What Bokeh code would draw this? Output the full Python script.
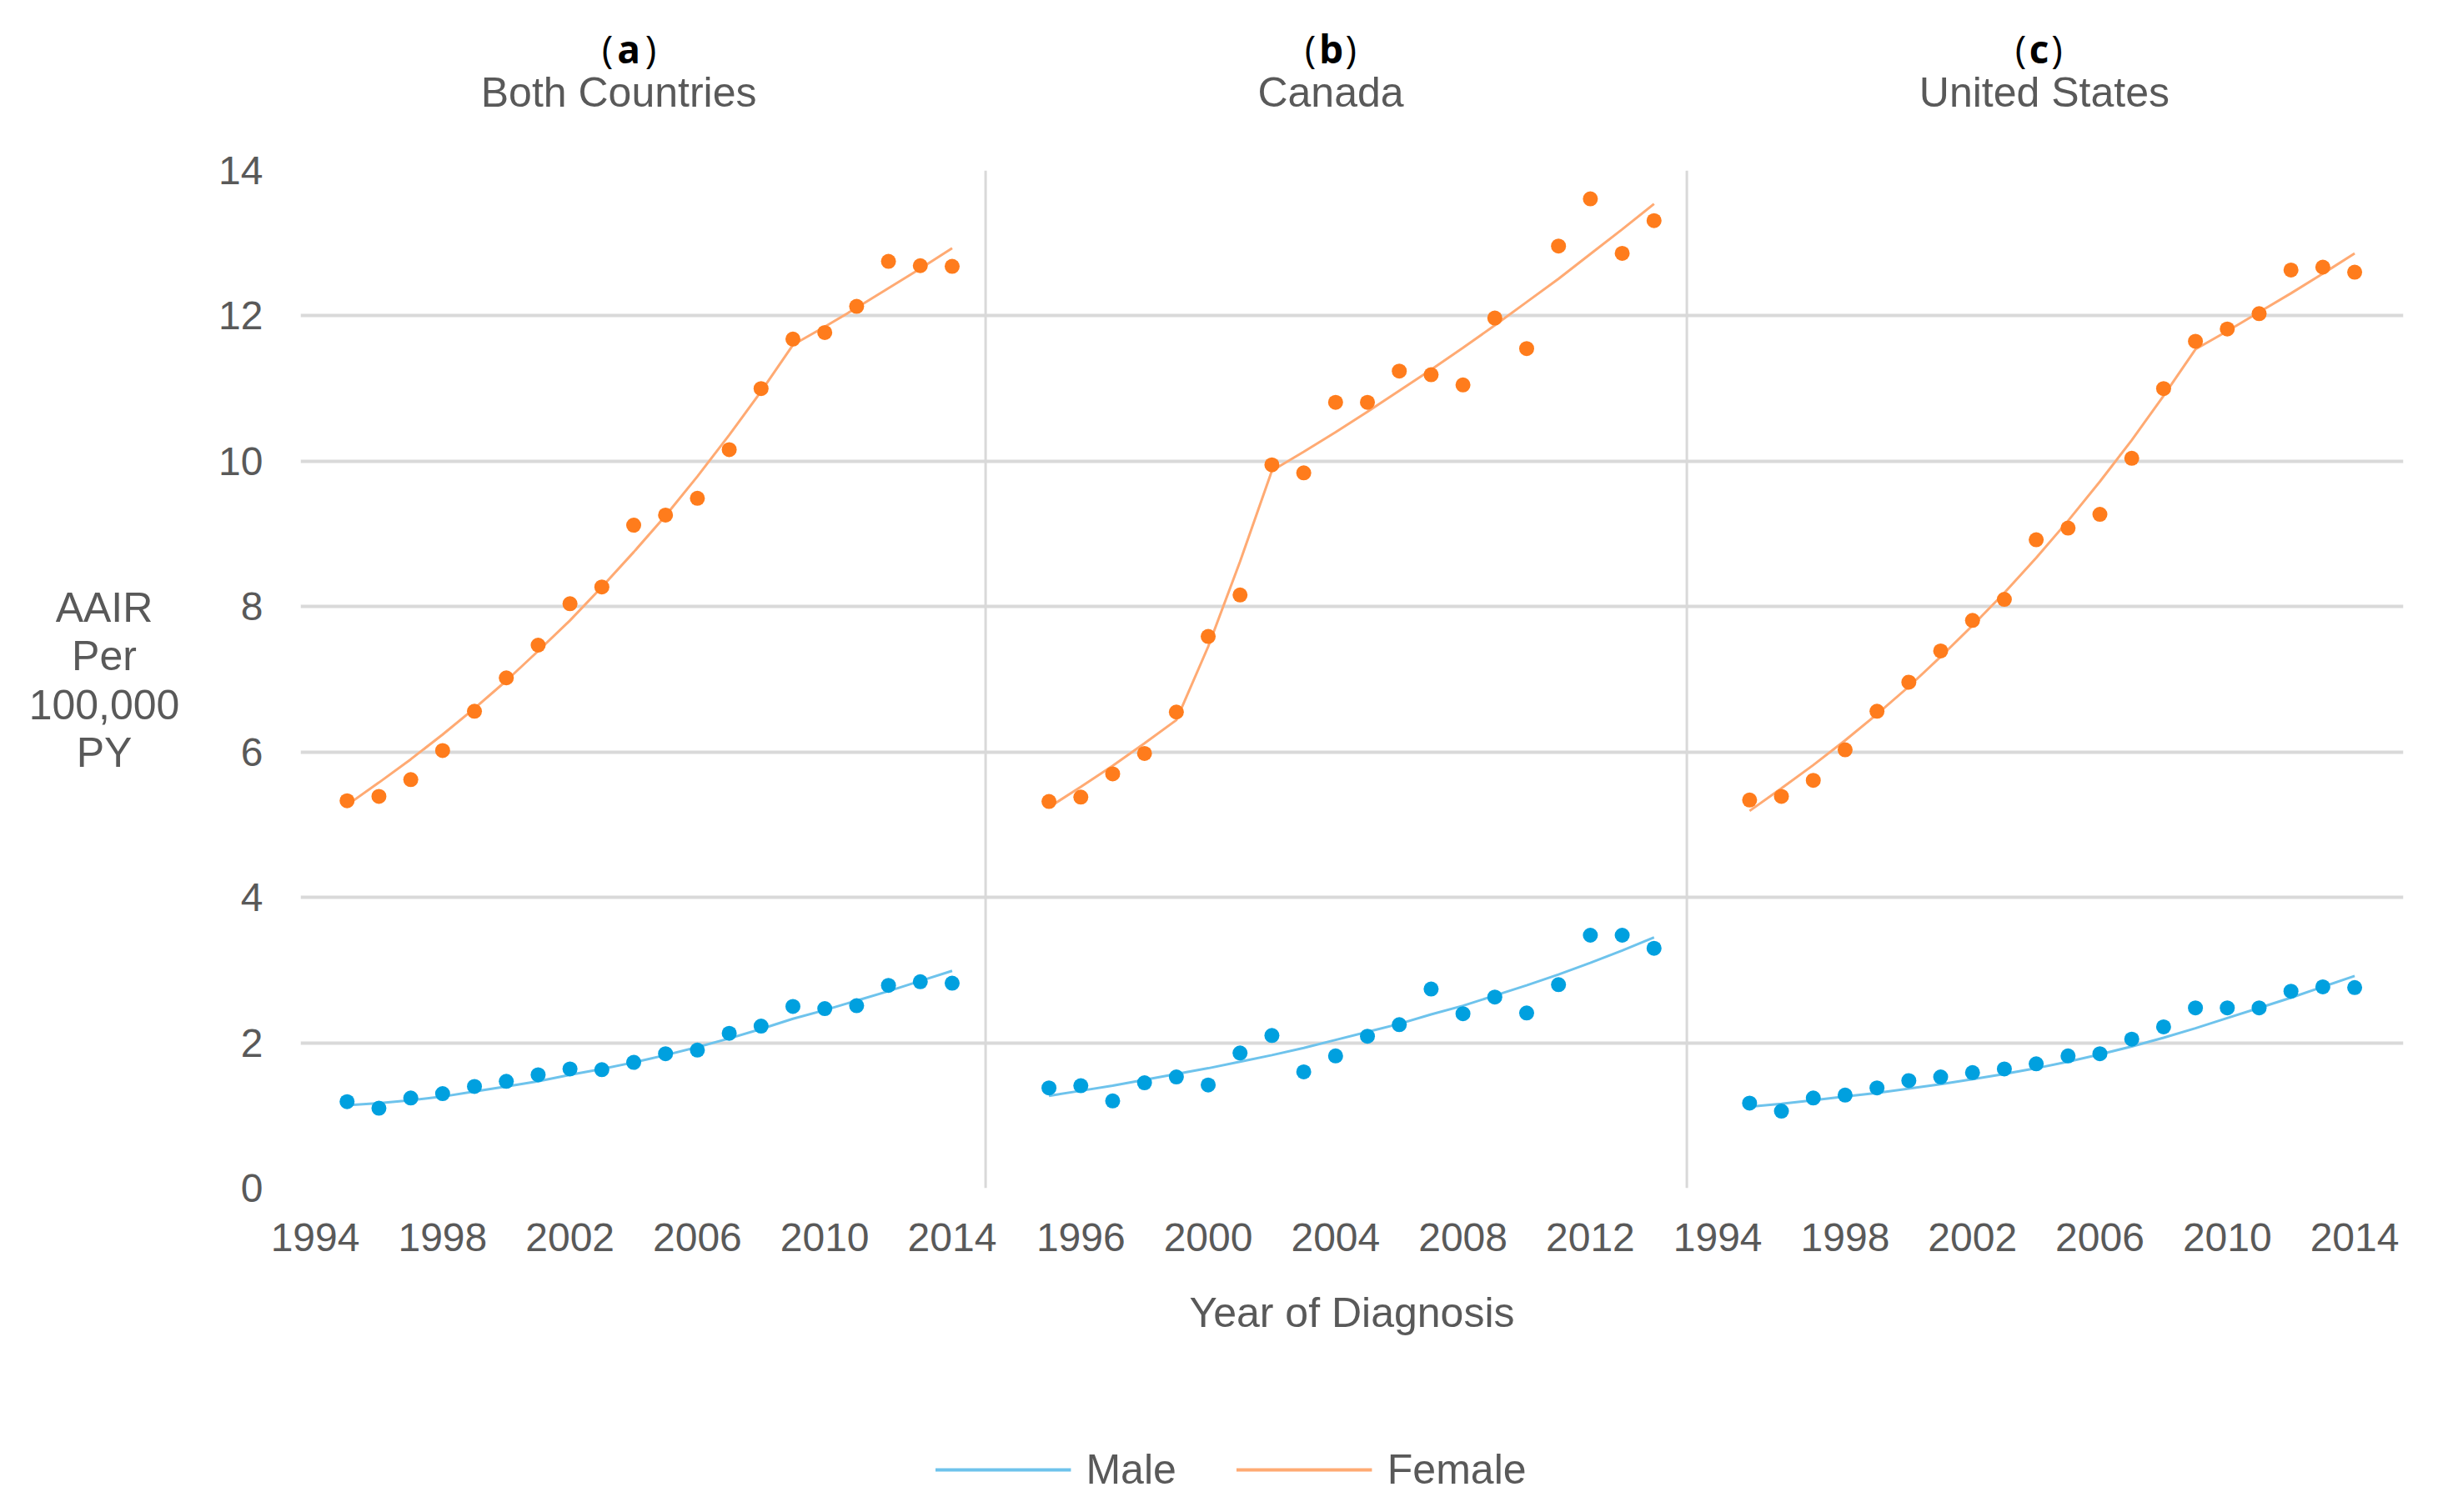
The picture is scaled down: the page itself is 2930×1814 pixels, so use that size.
from bokeh.plotting import figure
from bokeh.layouts import column, row
from bokeh.models import (Range1d, FixedTicker, CustomJSTickFormatter, Span, Label,
                          Legend, LegendItem, Spacer)
from bokeh.embed import file_html
from bokeh.resources import INLINE

# ---------------- data ----------------
YEARS = [1995, 1996, 1997, 1998, 1999, 2000, 2001, 2002, 2003, 2004,
         2005, 2006, 2007, 2008, 2009, 2010, 2011, 2012, 2013, 2014]

BOTH_MALE = [1.19, 1.10, 1.24, 1.30, 1.40, 1.47, 1.56, 1.64, 1.63, 1.73,
             1.85, 1.90, 2.13, 2.23, 2.50, 2.47, 2.51, 2.79, 2.84, 2.82]
BOTH_MALE_TREND = [1.14, 1.17, 1.21, 1.26, 1.33, 1.40, 1.47, 1.56, 1.64, 1.73,
                   1.83, 1.94, 2.06, 2.19, 2.33, 2.45, 2.58, 2.71, 2.85, 2.99]
BOTH_FEMALE = [5.33, 5.39, 5.62, 6.02, 6.56, 7.02, 7.47, 8.04, 8.27, 9.12,
               9.26, 9.49, 10.16, 11.00, 11.68, 11.77, 12.13, 12.75, 12.69, 12.68]
BOTH_FEMALE_TREND = [5.27, 5.58, 5.90, 6.24, 6.60, 6.98, 7.39, 7.81, 8.27, 8.75,
                     9.25, 9.79, 10.36, 10.96, 11.60, 11.85, 12.11, 12.38, 12.65, 12.93]

CAN_MALE = [1.38, 1.41, 1.20, 1.45, 1.53, 1.42, 1.86, 2.10, 1.60, 1.82,
            2.09, 2.25, 2.74, 2.40, 2.63, 2.41, 2.80, 3.48, 3.48, 3.30]
CAN_MALE_TREND = [1.27, 1.34, 1.41, 1.49, 1.57, 1.65, 1.74, 1.83, 1.93, 2.04,
                  2.15, 2.26, 2.39, 2.51, 2.65, 2.79, 2.94, 3.10, 3.27, 3.45]
CAN_FEMALE = [5.32, 5.38, 5.70, 5.98, 6.55, 7.59, 8.16, 9.95, 9.84, 10.81,
              10.81, 11.24, 11.19, 11.05, 11.97, 11.55, 12.96, 13.61, 12.86, 13.31]
CAN_FEMALE_TREND = [5.24, 5.52, 5.81, 6.12, 6.44, 7.45, 8.62, 9.87, 10.13, 10.40,
                    10.68, 10.97, 11.26, 11.56, 11.87, 12.19, 12.51, 12.85, 13.19, 13.54]

US_MALE = [1.17, 1.06, 1.24, 1.28, 1.38, 1.48, 1.53, 1.59, 1.64, 1.71,
           1.82, 1.85, 2.05, 2.22, 2.48, 2.48, 2.48, 2.71, 2.77, 2.76]
US_MALE_TREND = [1.12, 1.16, 1.21, 1.26, 1.31, 1.37, 1.43, 1.50, 1.57, 1.65,
                 1.74, 1.84, 1.95, 2.07, 2.20, 2.34, 2.48, 2.62, 2.77, 2.92]
US_FEMALE = [5.34, 5.39, 5.61, 6.03, 6.56, 6.96, 7.39, 7.81, 8.10, 8.92,
             9.08, 9.27, 10.04, 11.00, 11.65, 11.82, 12.03, 12.63, 12.67, 12.60]
US_FEMALE_TREND = [5.19, 5.50, 5.82, 6.16, 6.52, 6.90, 7.31, 7.74, 8.19, 8.67,
                   9.18, 9.72, 10.29, 10.90, 11.54, 11.79, 12.05, 12.31, 12.58, 12.86]

PANEL_LETTERS = ["a", "b", "c"]
PANEL_TITLES = ["Both Countries", "Canada", "United States"]
Y_TICKS = [0, 2, 4, 6, 8, 10, 12, 14]
TICKS_A = [1994, 1998, 2002, 2006, 2010, 2014]
TICKS_B = [1996, 2000, 2004, 2008, 2012]
TICKS_C = [1994, 1998, 2002, 2006, 2010, 2014]
Y_LABEL_LINES = ["AAIR", "Per", "100,000", "PY"]
SERIES_NAMES = ["Male", "Female"]

# ---------------- layout / style ----------------
W, H = 2930, 1814
TOP_H = 150            # title strip height
BOT_H = 102            # legend strip height
LEFT_W = 240           # y-label strip width
LEG_SHIFT = 22         # legend strip offset
MAIN_W = W - LEFT_W
MAIN_H = H - TOP_H - BOT_H
FRAME_L, FRAME_T = 360, 204          # page position of the plotting frame
FW, FH = 2522, 1221                  # plotting frame size
M_BL = FRAME_L - LEFT_W
M_BT = FRAME_T - TOP_H
M_BR = MAIN_W - M_BL - FW
M_BB = MAIN_H - M_BT - FH

X0, X1 = 1993.54, 2059.57          # global x coordinates (panel a years)
OFF_B, OFF_C = 22.04, 44.04        # horizontal shift of panels b and c
A_END, B_END = 2015.05, 2037.07    # panel separators (global coords)

GRAY = "#595959"
GRID = "#d9d9d9"
BLUE = "#00a0df"
ORANGE = "#ff7c1c"
BLUE_LINE = "#6ec3ec"
ORANGE_LINE = "#ffaa73"
FONT = "Liberation Sans"
DOT = 18


def strip(width, height, xr, yr, **borders):
    """A bare figure whose data coordinates equal page pixels."""
    f = figure(width=width, height=height, x_range=Range1d(*xr), y_range=Range1d(*yr),
               output_backend="svg", toolbar_location=None,
               x_axis_location=None, y_axis_location=None,
               min_border_left=borders.get("left", 0), min_border_right=borders.get("right", 0),
               min_border_top=borders.get("top", 0), min_border_bottom=borders.get("bottom", 0))
    f.grid.visible = False
    f.outline_line_color = None
    f.background_fill_color = "white"
    f.border_fill_color = "white"
    return f


# ---------------- main plot ----------------
p = figure(width=MAIN_W, height=MAIN_H, x_range=Range1d(X0, X1), y_range=Range1d(0, 14),
           output_backend="svg", toolbar_location=None,
           min_border_left=M_BL, min_border_right=M_BR, min_border_top=M_BT,
           min_border_bottom=M_BB)
p.extra_x_ranges = {"b": Range1d(X0 - OFF_B, X1 - OFF_B),
                    "c": Range1d(X0 - OFF_C, X1 - OFF_C)}
p.outline_line_color = None
p.background_fill_color = "white"
p.border_fill_color = "white"

p.xgrid.visible = False
p.ygrid.ticker = FixedTicker(ticks=Y_TICKS)
p.ygrid.grid_line_color = GRID
p.ygrid.grid_line_width = 4

for loc in (A_END, B_END):
    p.add_layout(Span(location=loc, dimension="height", line_color=GRID, line_width=3))

p.yaxis.ticker = FixedTicker(ticks=Y_TICKS)
p.yaxis.axis_line_color = None
p.yaxis.major_tick_line_color = None
p.yaxis.minor_tick_line_color = None
p.yaxis.major_tick_out = 0
p.yaxis.major_tick_in = 0
p.yaxis.major_label_standoff = 45
p.yaxis.major_label_text_font = FONT
p.yaxis.major_label_text_font_size = "48px"
p.yaxis.major_label_text_color = GRAY

ticks = TICKS_A + [t + OFF_B for t in TICKS_B] + [t + OFF_C for t in TICKS_C]
p.xaxis.ticker = FixedTicker(ticks=ticks)
p.xaxis.formatter = CustomJSTickFormatter(
    args=dict(ob=OFF_B, oc=OFF_C, ae=A_END, be=B_END),
    code="""
    let v = tick;
    if (tick > be) { v = tick - oc; } else if (tick > ae) { v = tick - ob; }
    return Math.round(v).toString();
    """)
p.xaxis.axis_line_color = None
p.xaxis.major_tick_line_color = None
p.xaxis.minor_tick_line_color = None
p.xaxis.major_tick_out = 0
p.xaxis.major_tick_in = 0
p.xaxis.major_label_standoff = 42
p.xaxis.major_label_text_font = FONT
p.xaxis.major_label_text_font_size = "48px"
p.xaxis.major_label_text_color = GRAY
p.xaxis.axis_label = "Year of Diagnosis"
p.xaxis.axis_label_standoff = 43
p.xaxis.axis_label_text_font = FONT
p.xaxis.axis_label_text_font_size = "50px"
p.xaxis.axis_label_text_font_style = "normal"
p.xaxis.axis_label_text_color = GRAY

panels = [
    ("default", BOTH_MALE, BOTH_MALE_TREND, BOTH_FEMALE, BOTH_FEMALE_TREND),
    ("b", CAN_MALE, CAN_MALE_TREND, CAN_FEMALE, CAN_FEMALE_TREND),
    ("c", US_MALE, US_MALE_TREND, US_FEMALE, US_FEMALE_TREND),
]
for rn, male, male_tr, female, female_tr in panels:
    p.line(YEARS, male_tr, line_color=BLUE_LINE, line_width=3, x_range_name=rn)
    p.scatter(YEARS, male, size=DOT, fill_color=BLUE, line_color=None, x_range_name=rn)
    p.line(YEARS, female_tr, line_color=ORANGE_LINE, line_width=3, x_range_name=rn)
    p.scatter(YEARS, female, size=DOT, fill_color=ORANGE, line_color=None, x_range_name=rn)

# ---------------- title strip (frame aligned with the main frame horizontally) ----------------
top = strip(W, TOP_H, (FRAME_L, FRAME_L + FW), (TOP_H, 0),
            left=FRAME_L, right=W - FRAME_L - FW)
title_cy = 110.4
paren_cy = 57.2
title_cx = [741.6, 1595.5, 2451.4]
paren_pos = [(728, 753.7, 780), (1571, 1596, 1619.7), (2423, 2445, 2466.5)]
for letter, title, cx, (lp, lc, rp) in zip(PANEL_LETTERS, PANEL_TITLES, title_cx, paren_pos):
    top.add_layout(Label(x=cx, y=title_cy, text=title, text_align="center",
                         text_baseline="middle", text_font=FONT,
                         text_font_size="50px", text_color=GRAY))
    for txt, px, style in (("(", lp, "normal"), (letter, lc, "bold"), (")", rp, "normal")):
        top.add_layout(Label(x=px, y=paren_cy, text=txt, text_align="center",
                             text_baseline="middle", text_font="Open Sans",
                             text_font_size="46px", text_font_style=style,
                             text_color="black"))

# ---------------- y-label strip (frame aligned with the main frame vertically) ----------------
left = strip(LEFT_W, MAIN_H, (0, LEFT_W), (FRAME_T + FH, FRAME_T), top=M_BT, bottom=M_BB)
for txt, cy in zip(Y_LABEL_LINES, [728.1, 786.1, 844.6, 902.6]):
    left.add_layout(Label(x=124.5, y=cy, text=txt, text_align="center",
                          text_baseline="middle", text_font=FONT,
                          text_font_size="50px", text_color=GRAY))

# ---------------- legend strip ----------------
bottom = strip(W - LEG_SHIFT, BOT_H, (0, W - LEG_SHIFT), (BOT_H, 0))
# legend-only copies of the trend lines (not drawn in this strip)
lm = bottom.line(YEARS, BOTH_MALE_TREND, line_color=BLUE_LINE, line_width=4, visible=False)
lf = bottom.line(YEARS, BOTH_FEMALE_TREND, line_color=ORANGE_LINE, line_width=4, visible=False)
legend = Legend(items=[LegendItem(label=SERIES_NAMES[0], renderers=[lm]),
                       LegendItem(label=SERIES_NAMES[1], renderers=[lf])],
                orientation="horizontal", location="center",
                glyph_width=163, glyph_height=50, label_height=50, label_standoff=18,
                spacing=72, padding=0, margin=0, border_line_color=None,
                background_fill_alpha=0, inactive_fill_alpha=0,
                label_text_font=FONT, label_text_font_size="50px",
                label_text_color=GRAY)
bottom.add_layout(legend)

layout = column(top, row(left, p), row(Spacer(width=LEG_SHIFT, height=BOT_H), bottom))
open("out.html", "w").write(file_html(layout, INLINE))
